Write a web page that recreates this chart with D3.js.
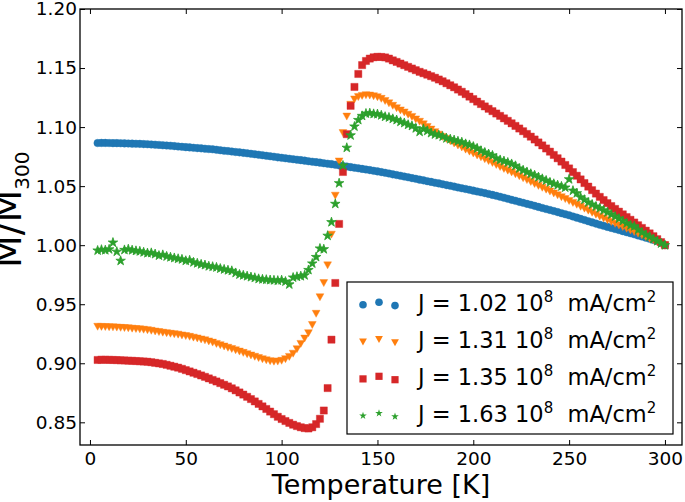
<!DOCTYPE html>
<html><head><meta charset="utf-8">
<script src="https://cdn.jsdelivr.net/npm/d3@7"></script>
<style>html,body{margin:0;padding:0;background:#fff;}svg{display:block;font-family:"DejaVu Sans",sans-serif;}</style>
</head><body>
<svg id="chart" width="685" height="502"></svg>
<script>
const temps = [4,6,8,10,12,14,16,18,20,22,24,26,28,30,32,34,36,38,40,42,44,46,48,50,52,54,56,58,60,62,64,66,68,70,72,74,76,78,80,82,84,86,88,90,92,94,96,98,100,102,104,106,108,110,112,114,116,118,120,122,124,126,128,130,132,134,136,138,140,142,144,146,148,150,152,154,156,158,160,162,164,166,168,170,172,174,176,178,180,182,184,186,188,190,192,194,196,198,200,202,204,206,208,210,212,214,216,218,220,222,224,226,228,230,232,234,236,238,240,242,244,246,248,250,252,254,256,258,260,262,264,266,268,270,272,274,276,278,280,282,284,286,288,290,292,294,296,298,300];

const blueVals = [
1.0865,1.0866,1.0866,1.0865,1.0864,1.0864,1.0863,1.0862,1.0861,1.0860,
1.0859,1.0858,1.0856,1.0855,1.0853,1.0851,1.0849,1.0846,1.0844,1.0842,
1.0839,1.0836,1.0833,1.0830,1.0828,1.0825,1.0822,1.0820,1.0817,1.0814,
1.0812,1.0808,1.0804,1.0800,1.0797,1.0793,1.0789,1.0786,1.0782,1.0778,
1.0774,1.0770,1.0766,1.0762,1.0757,1.0753,1.0749,1.0744,1.0740,1.0736,
1.0732,1.0728,1.0724,1.0720,1.0716,1.0711,1.0707,1.0703,1.0699,1.0694,
1.0690,1.0686,1.0681,1.0676,1.0671,1.0666,1.0661,1.0656,1.0651,1.0646,
1.0641,1.0636,1.0630,1.0625,1.0619,1.0613,1.0607,1.0600,1.0594,1.0588,
1.0581,1.0575,1.0568,1.0562,1.0555,1.0549,1.0542,1.0536,1.0529,1.0523,
1.0516,1.0509,1.0503,1.0496,1.0489,1.0482,1.0476,1.0469,1.0462,1.0455,
1.0448,1.0441,1.0434,1.0426,1.0418,1.0410,1.0402,1.0393,1.0384,1.0376,
1.0367,1.0359,1.0350,1.0342,1.0333,1.0324,1.0315,1.0306,1.0298,1.0289,
1.0280,1.0271,1.0262,1.0253,1.0243,1.0233,1.0223,1.0213,1.0203,1.0193,
1.0183,1.0173,1.0164,1.0155,1.0146,1.0137,1.0128,1.0119,1.0110,1.0101,
1.0092,1.0082,1.0073,1.0064,1.0054,1.0044,1.0033,1.0018,1.0000];

const orangeVals = [
0.9310,0.9309,0.9308,0.9306,0.9305,0.9303,0.9301,0.9299,0.9297,0.9294,
0.9291,0.9288,0.9285,0.9281,0.9276,0.9270,0.9265,0.9260,0.9256,0.9251,
0.9247,0.9243,0.9237,0.9231,0.9225,0.9218,0.9211,0.9203,0.9195,0.9186,
0.9176,0.9165,0.9154,0.9143,0.9132,0.9122,0.9111,0.9100,0.9089,0.9078,
0.9067,0.9056,0.9045,0.9035,0.9026,0.9019,0.9014,0.9015,0.9022,0.9036,
0.9055,0.9082,0.9120,0.9165,0.9210,0.9256,0.9325,0.9420,0.9560,0.9680,
0.9830,1.0090,1.0420,1.0710,1.0950,1.1090,1.1190,1.1235,1.1255,1.1265,
1.1270,1.1268,1.1262,1.1254,1.1240,1.1222,1.1202,1.1181,1.1161,1.1142,
1.1125,1.1106,1.1087,1.1066,1.1046,1.1024,1.1002,1.0980,1.0958,1.0937,
1.0918,1.0900,1.0881,1.0862,1.0845,1.0828,1.0810,1.0793,1.0777,1.0761,
1.0745,1.0729,1.0713,1.0697,1.0680,1.0663,1.0647,1.0632,1.0617,1.0601,
1.0585,1.0568,1.0552,1.0536,1.0519,1.0503,1.0487,1.0471,1.0455,1.0439,
1.0423,1.0407,1.0391,1.0375,1.0359,1.0343,1.0326,1.0310,1.0293,1.0276,
1.0259,1.0242,1.0227,1.0212,1.0197,1.0182,1.0168,1.0154,1.0140,1.0126,
1.0112,1.0098,1.0084,1.0070,1.0056,1.0042,1.0028,1.0014,1.0000];

const redVals = [
0.9028,0.9030,0.9030,0.9029,0.9028,0.9027,0.9025,0.9024,0.9022,0.9021,
0.9019,0.9017,0.9015,0.9013,0.9009,0.9004,0.8999,0.8994,0.8987,0.8979,
0.8971,0.8963,0.8953,0.8942,0.8931,0.8920,0.8909,0.8897,0.8885,0.8872,
0.8859,0.8846,0.8832,0.8818,0.8804,0.8788,0.8771,0.8753,0.8735,0.8716,
0.8697,0.8677,0.8656,0.8635,0.8613,0.8591,0.8569,0.8547,0.8528,0.8511,
0.8495,0.8480,0.8468,0.8458,0.8451,0.8448,0.8458,0.8485,0.8530,0.8600,
0.8790,0.9200,0.9680,1.0180,1.0620,1.0940,1.1180,1.1340,1.1450,1.1525,
1.1560,1.1580,1.1591,1.1595,1.1594,1.1590,1.1580,1.1565,1.1552,1.1538,
1.1524,1.1510,1.1496,1.1482,1.1468,1.1456,1.1444,1.1431,1.1418,1.1403,
1.1388,1.1371,1.1354,1.1337,1.1318,1.1299,1.1279,1.1258,1.1237,1.1216,
1.1195,1.1175,1.1155,1.1135,1.1115,1.1095,1.1074,1.1053,1.1032,1.1010,
1.0988,1.0965,1.0942,1.0919,1.0895,1.0870,1.0845,1.0819,1.0792,1.0764,
1.0736,1.0708,1.0679,1.0650,1.0619,1.0588,1.0557,1.0526,1.0496,1.0466,
1.0437,1.0409,1.0382,1.0356,1.0331,1.0307,1.0284,1.0261,1.0238,1.0215,
1.0192,1.0169,1.0146,1.0123,1.0100,1.0076,1.0051,1.0026,1.0000];

const greenVals = [
0.9955,0.9962,0.9958,0.9965,1.0022,0.9945,0.9868,0.9960,0.9966,0.9958,
0.9952,0.9948,0.9940,0.9933,0.9935,0.9925,0.9912,0.9918,0.9905,0.9898,
0.9892,0.9885,0.9880,0.9868,0.9872,0.9855,0.9847,0.9838,0.9832,0.9822,
0.9818,0.9812,0.9802,0.9795,0.9788,0.9783,0.9765,0.9752,0.9745,0.9738,
0.9730,0.9724,0.9715,0.9711,0.9708,0.9705,0.9703,0.9700,0.9704,0.9692,
0.9668,0.9726,0.9733,0.9738,0.9745,0.9790,0.9845,0.9900,0.9972,0.9966,
1.0080,1.0195,1.0350,1.0525,1.0675,1.0825,1.0930,1.1005,1.1060,1.1095,
1.1115,1.1118,1.1112,1.1110,1.1100,1.1088,1.1082,1.1070,1.1060,1.1045,
1.1035,1.1020,1.1010,1.0990,1.0960,1.0985,1.0968,1.0950,1.0938,1.0932,
1.0920,1.0905,1.0898,1.0890,1.0880,1.0872,1.0858,1.0849,1.0835,1.0820,
1.0800,1.0785,1.0772,1.0760,1.0735,1.0722,1.0712,1.0700,1.0688,1.0672,
1.0650,1.0635,1.0620,1.0605,1.0592,1.0576,1.0562,1.0548,1.0532,1.0520,
1.0508,1.0498,1.0488,1.0558,1.0462,1.0440,1.0405,1.0385,1.0362,1.0345,
1.0328,1.0313,1.0295,1.0278,1.0260,1.0243,1.0225,1.0205,1.0185,1.0168,
1.0160,1.0130,1.0108,1.0088,1.0072,1.0052,1.0035,1.0015,1.0000];

const seriesLabels = ["1.02", "1.31", "1.35", "1.63"];
const seriesColors = ["#1f77b4", "#ff7f0e", "#d62728", "#2ca02c"];
const seriesShapes = ["circle", "triangle", "square", "star"];
const xTicks = [0, 50, 100, 150, 200, 250, 300];
const yTicks = [0.85, 0.90, 0.95, 1.00, 1.05, 1.10, 1.15, 1.20];
const xLabel = "Temperature [K]";

const seriesValues = [blueVals, orangeVals, redVals, greenVals];

const L = 80, R = 682, T = 9, B = 445;
const x = d3.scaleLinear().domain([-5.2, 308.9]).range([L, R]);
const y = d3.scaleLinear().domain([0.8308, 1.2]).range([B, T]);

const svg = d3.select("#chart");
svg.append("rect").attr("width", 685).attr("height", 502).attr("fill", "#fff");

function starPath(ro) {
  const ri = ro * 0.381966;
  let p = "";
  for (let k = 0; k < 10; k++) {
    const r = k % 2 === 0 ? ro : ri;
    const a = -Math.PI / 2 + k * Math.PI / 5;
    p += (k === 0 ? "M" : "L") + (r * Math.cos(a)).toFixed(3) + "," + (r * Math.sin(a)).toFixed(3);
  }
  return p + "Z";
}
const shapePaths = {
  circle: d3.symbol(d3.symbolCircle, Math.PI * 3.8 * 3.8)(),
  triangle: "M-3.9,-3.4L3.9,-3.4L0,3.6Z",
  square: "M-3.6,-3.6L3.6,-3.6L3.6,3.6L-3.6,3.6Z",
  star: starPath(5.0)
};

const plot = svg.append("g");
seriesValues.forEach((vals, si) => {
  plot.append("g").selectAll("path").data(temps.map((t, i) => [t, vals[i]]))
    .join("path")
    .attr("d", shapePaths[seriesShapes[si]])
    .attr("transform", d => `translate(${x(d[0])},${y(d[1])})`)
    .attr("fill", seriesColors[si])
    .attr("stroke", seriesColors[si])
    .attr("stroke-width", seriesShapes[si] === "star" ? 0.8 : 0.4)
    .attr("stroke-linejoin", "round");
});

// axes with inward ticks
const tickStyle = g => {
  g.select(".domain").remove();
  g.selectAll(".tick line").attr("stroke", "#000").attr("stroke-width", 1);
  g.selectAll(".tick text").attr("fill", "#000").attr("font-size", "18.5px")
   .attr("font-family", "DejaVu Sans, sans-serif");
};
svg.append("g").attr("transform", `translate(0,${B})`)
  .call(d3.axisBottom(x).tickValues(xTicks).tickSize(-5).tickPadding(7).tickFormat(d3.format("d")))
  .call(tickStyle);
svg.append("g").attr("transform", `translate(0,${T})`)
  .call(d3.axisTop(x).tickValues(xTicks).tickSize(-5).tickFormat(""))
  .call(tickStyle);
svg.append("g").attr("transform", `translate(${L},0)`)
  .call(d3.axisLeft(y).tickValues(yTicks).tickSize(-5).tickPadding(3).tickFormat(d3.format(".2f")))
  .call(tickStyle);
svg.append("g").attr("transform", `translate(${R},0)`)
  .call(d3.axisRight(y).tickValues(yTicks).tickSize(-5).tickFormat(""))
  .call(tickStyle);

svg.append("rect").attr("x", L).attr("y", T).attr("width", R - L).attr("height", B - T)
  .attr("fill", "none").attr("stroke", "#000").attr("stroke-width", 1.3);

// axis labels
svg.append("text").attr("x", (L + R) / 2).attr("y", 494).attr("text-anchor", "middle")
  .attr("font-size", "27px").attr("fill", "#000").text(xLabel);

const yl = svg.append("text").attr("transform", "rotate(-90)")
  .attr("x", -268).attr("y", 21).attr("font-size", "38px").attr("fill", "#000");
yl.append("tspan").text("M/M");
yl.append("tspan").attr("font-size", "20px").attr("dy", 8).text("300");

// legend
const lg = svg.append("g");
lg.append("rect").attr("x", 347).attr("y", 282).attr("width", 326).attr("height", 152)
  .attr("fill", "#fff").attr("stroke", "#000").attr("stroke-width", 1.2);
const rowBase = [310.7, 347.8, 384.8, 421.7];
const markerX = [363, 379, 395];
const markerDy = [0.6, -2, 1.4];
seriesLabels.forEach((lab, i) => {
  const cy = rowBase[i] - 6.5;
  markerX.forEach((mx, k) => {
    lg.append("path").attr("d", shapePaths[seriesShapes[i]])
      .attr("transform", `translate(${mx},${cy + markerDy[k]})${seriesShapes[i] === "star" ? " scale(0.8)" : ""}`)
      .attr("fill", seriesColors[i]);
  });
  const t = lg.append("text").attr("x", 418).attr("y", rowBase[i]).attr("font-size", "22.5px").attr("fill", "#000");
  t.append("tspan").text("J = " + lab + " 10");
  t.append("tspan").attr("font-size", "15px").attr("dy", -9).text("8");
  t.append("tspan").attr("dy", 9).text("\u00a0\u00a0mA/cm");
  t.append("tspan").attr("font-size", "15px").attr("dy", -9).text("2");
});
</script>
</body></html>
